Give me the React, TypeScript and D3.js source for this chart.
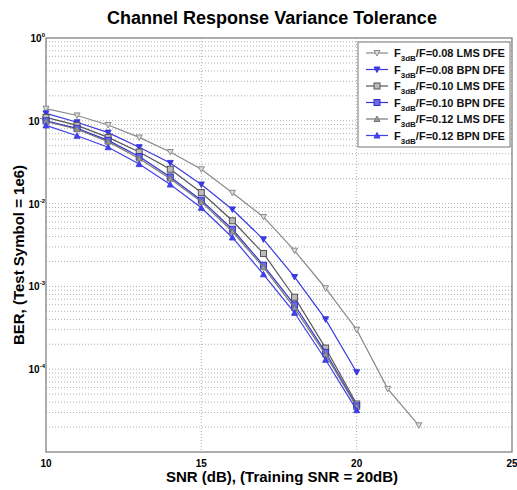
import * as d3 from "d3";
import {useEffect, useRef} from "react";

// SNR values (dB)
const snrShort = [10, 11, 12, 13, 14, 15, 16, 17, 18, 19, 20];
const snrLong = [10, 11, 12, 13, 14, 15, 16, 17, 18, 19, 20, 21, 22];

// BER
const lms008 = [0.14, 0.116, 0.089, 0.063, 0.042, 0.026, 0.0135, 0.0069, 0.0027, 0.00095, 0.0003, 0.000058, 0.000021];
const bpn008 = [0.123, 0.096, 0.072, 0.048, 0.031, 0.017, 0.0085, 0.0037, 0.0013, 0.0004, 0.000092];
const lms010 = [0.11, 0.088, 0.063, 0.042, 0.026, 0.0136, 0.0062, 0.0025, 0.00074, 0.00018, 0.000038];
const bpn010 = [0.1, 0.081, 0.058, 0.037, 0.021, 0.011, 0.0049, 0.0018, 0.0006, 0.00016, 0.000036];
const lms012 = [0.098, 0.079, 0.056, 0.035, 0.02, 0.0105, 0.0046, 0.0017, 0.00055, 0.00015, 0.000035];
const bpn012 = [0.088, 0.066, 0.048, 0.03, 0.017, 0.0089, 0.0039, 0.0014, 0.00048, 0.00013, 0.000032];

const legendTags = ["0.08 LMS DFE", "0.08 BPN DFE", "0.10 LMS DFE", "0.10 BPN DFE", "0.12 LMS DFE", "0.12 BPN DFE"];

const xTicks = [10, 15, 20, 25];
const yExps = [0, -1, -2, -3, -4];

const series = [
  {x: snrLong, y: lms008, color: "#8a8a8a", marker: "tridown", fill: "#ddd"},
  {x: snrShort, y: bpn008, color: "#3a3ae0", marker: "tridown", fill: "#3a3ae0"},
  {x: snrShort, y: lms010, color: "#555", marker: "square", fill: "#bbb"},
  {x: snrShort, y: bpn010, color: "#3434c8", marker: "square", fill: "#6a6ae8"},
  {x: snrShort, y: lms012, color: "#777", marker: "triup", fill: "#999"},
  {x: snrShort, y: bpn012, color: "#4040e8", marker: "triup", fill: "#4040e8"},
];

function drawMarker(g: any, type: string, cx: number, cy: number, color: string, fill: string) {
  const s = 3;
  if (type === "square") {
    g.append("rect").attr("x", cx - s).attr("y", cy - s).attr("width", 2 * s).attr("height", 2 * s)
      .attr("fill", fill).attr("stroke", color).attr("stroke-width", 1);
  } else {
    const d = type === "tridown"
      ? `M${cx - s},${cy - s + 0.5}L${cx + s},${cy - s + 0.5}L${cx},${cy + s}Z`
      : `M${cx - s},${cy + s - 0.5}L${cx + s},${cy + s - 0.5}L${cx},${cy - s}Z`;
    g.append("path").attr("d", d).attr("fill", fill).attr("stroke", color).attr("stroke-width", 1);
  }
}

function App() {
  const ref = useRef<SVGSVGElement>(null);

  useEffect(() => {
    const svg = d3.select(ref.current);
    svg.selectAll("*").remove();

    const left = 46, right = 512, top = 38, bottom = 452;
    const x = d3.scaleLinear().domain([10, 25]).range([left, right]);
    const y = d3.scaleLog().domain([1e-5, 1]).range([bottom, top]);
    const font = "Arial, 'Liberation Sans', sans-serif";

    svg.append("rect").attr("width", 517).attr("height", 490).attr("fill", "#fff");

    // grid: minor log lines
    const grid = svg.append("g").attr("stroke", "#9a9a9a").attr("stroke-width", 0.8)
      .attr("stroke-dasharray", "1,2");
    for (let e = -5; e < 0; e++) {
      for (let m = 1; m <= 9; m++) {
        const v = m * Math.pow(10, e);
        if (v <= 1e-5) continue;
        grid.append("line").attr("x1", left).attr("x2", right).attr("y1", y(v)).attr("y2", y(v));
      }
    }
    [15, 20].forEach(t => {
      grid.append("line").attr("x1", x(t)).attr("x2", x(t)).attr("y1", top).attr("y2", bottom);
    });

    // frame
    svg.append("rect").attr("x", left).attr("y", top).attr("width", right - left).attr("height", bottom - top)
      .attr("fill", "none").attr("stroke", "#777").attr("stroke-width", 1.2);

    // x tick labels
    svg.append("g").selectAll("text").data(xTicks).enter().append("text")
      .attr("x", d => x(d)).attr("y", bottom + 15).attr("text-anchor", "middle")
      .style("font", `bold 10px ${font}`).text(d => d);

    // y tick labels
    const yl = svg.append("g");
    yExps.forEach(e => {
      const t = yl.append("text").attr("x", left - 1).attr("y", y(Math.pow(10, e)) + 4)
        .attr("text-anchor", "end").style("font", `bold 10px ${font}`);
      t.append("tspan").text("10");
      t.append("tspan").attr("dy", -5).style("font-size", "6px").text(e);
    });

    // lines + markers
    const line = d3.line<[number, number]>().x(d => x(d[0])).y(d => y(d[1]));
    series.forEach(s => {
      const pts: [number, number][] = s.y.map((v, i) => [s.x[i], v]);
      svg.append("path").datum(pts).attr("d", line).attr("fill", "none")
        .attr("stroke", s.color).attr("stroke-width", 1.2);
      const mg = svg.append("g");
      pts.forEach(p => drawMarker(mg, s.marker, x(p[0]), y(p[1]), s.color, s.fill));
    });

    // legend
    const lx = 358, ly = 42, lw = 152, lh = 105;
    svg.append("rect").attr("x", lx).attr("y", ly).attr("width", lw).attr("height", lh)
      .attr("fill", "#fff").attr("stroke", "#777").attr("stroke-width", 1);
    series.forEach((s, i) => {
      const cy = ly + 11 + i * 16.5;
      svg.append("line").attr("x1", lx + 8).attr("x2", lx + 30).attr("y1", cy).attr("y2", cy)
        .attr("stroke", s.color).attr("stroke-width", 1.2);
      drawMarker(svg, s.marker, lx + 19, cy, s.color, s.fill);
      const t = svg.append("text").attr("x", lx + 36).attr("y", cy + 4)
        .style("font", `bold 11px ${font}`).attr("fill", "#111");
      t.append("tspan").text("F");
      t.append("tspan").attr("dy", 4).style("font-size", "8px").text("3dB");
      t.append("tspan").attr("dy", -4).text("/F=" + legendTags[i]);
    });

    // titles
    svg.append("text").attr("x", 272).attr("y", 24).attr("text-anchor", "middle")
      .style("font", `bold 18px ${font}`).text("Channel Response Variance Tolerance");
    svg.append("text").attr("x", 282).attr("y", 482).attr("text-anchor", "middle")
      .style("font", `bold 15px ${font}`).text("SNR (dB), (Training SNR = 20dB)");
    svg.append("text").attr("transform", `translate(24,${(top + bottom) / 2 + 10}) rotate(-90)`)
      .attr("text-anchor", "middle").style("font", `bold 15px ${font}`)
      .text("BER, (Test Symbol = 1e6)");
  });

  return (
    <svg ref={ref} width={517} height={490} style={{display: "block", position: "absolute", left: 0, top: 0}}></svg>
  );
}

export default App;
